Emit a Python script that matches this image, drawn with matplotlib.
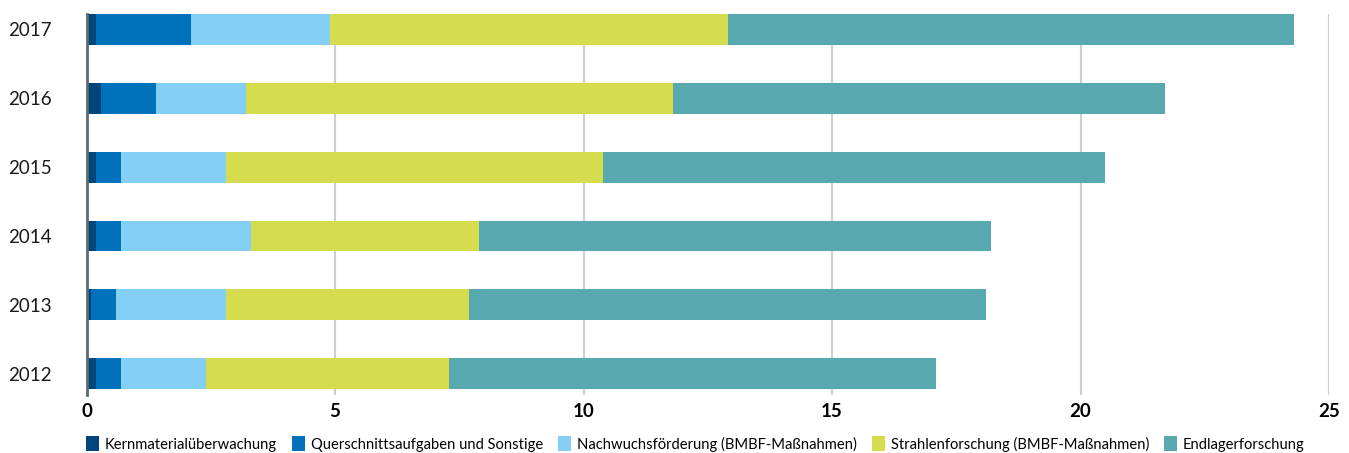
import numpy as np
import matplotlib
matplotlib.use("Agg")
import matplotlib.pyplot as plt

plt.rcParams['font.family'] = ['Lato', 'DejaVu Sans']

years = ['2012', '2013', '2014', '2015', '2016', '2017']
series = [
    'Kernmaterialüberwachung',
    'Querschnittsaufgaben und Sonstige',
    'Nachwuchsförderung (BMBF-Maßnahmen)',
    'Strahlenforschung (BMBF-Maßnahmen)',
    'Endlagerforschung',
]
kern = [0.2, 0.1, 0.2, 0.2, 0.3, 0.2]
quer = [0.5, 0.5, 0.5, 0.5, 1.1, 1.9]
nachwuchs = [1.7, 2.2, 2.6, 2.1, 1.8, 2.8]
strahlen = [4.9, 4.9, 4.6, 7.6, 8.6, 8.0]
endlager = [9.8, 10.4, 10.3, 10.1, 9.9, 11.4]
colors = ['#00457c', '#0072bc', '#84d0f5', '#d5dc4d', '#57a8af']

values = [kern, quer, nachwuchs, strahlen, endlager]

fig = plt.figure(figsize=(13.49, 4.53), dpi=100)
ax = fig.add_axes([86.5 / 1349, 1 - 395 / 453, (1329 - 86.5) / 1349, (395 - 14) / 453])

y = np.arange(len(years))
left = np.zeros(len(years))
for name, vals, col in zip(series, values, colors):
    ax.barh(y, vals, left=left, height=0.45, color=col, label=name, zorder=3)
    left += np.array(vals)

ax.set_xlim(0, 25)
ax.set_ylim(-0.31, 5.225)
ax.set_xticks([0, 5, 10, 15, 20, 25])
ax.set_yticks(y)
ax.set_yticklabels(years)
ax.grid(axis='x', color='#c9cfd4', linewidth=1.5, zorder=0)
ax.tick_params(axis='both', length=0)
ax.tick_params(axis='y', pad=25, labelsize=13.5, labelcolor='#1a1a1a')
ax.tick_params(axis='x', pad=6, labelsize=13.5)
for lab in ax.get_xticklabels():
    lab.set_fontweight('bold')
for s in ['top', 'right', 'bottom']:
    ax.spines[s].set_visible(False)
ax.spines['left'].set_color('#5b6b72')
ax.spines['left'].set_linewidth(2)
ax.spines['left'].set_zorder(4)

fig.legend(loc='center left', bbox_to_anchor=(80 / 1349, 1 - 444 / 453), ncol=5,
           frameon=False, fontsize=10.6, handlelength=0.9, handleheight=1.1,
           handletextpad=0.4, columnspacing=1.0, borderaxespad=0)

fig.savefig('out.png', dpi=100)
